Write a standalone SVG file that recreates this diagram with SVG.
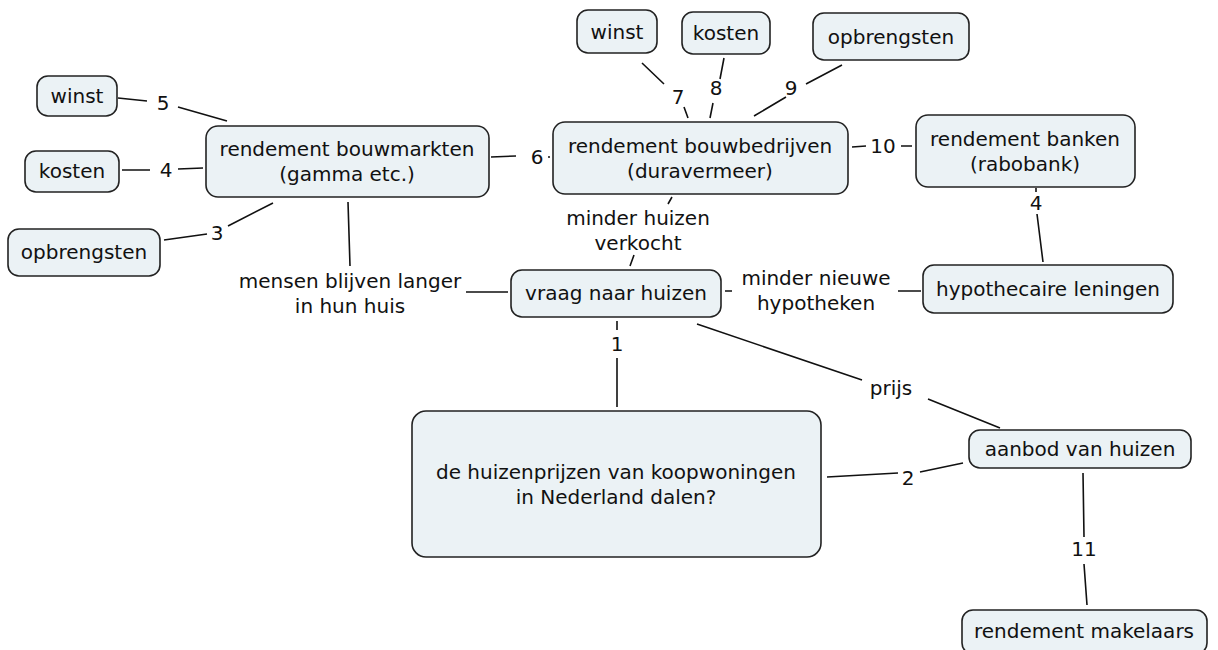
<svg xmlns="http://www.w3.org/2000/svg" width="1218" height="650" viewBox="0 0 1218 650">
<style>
.n{fill:#ebf2f5;stroke:#222;stroke-width:1.6}
.t{font-family:"DejaVu Sans",Verdana,sans-serif;font-size:20px;fill:#111;text-anchor:middle}
.c{stroke:#111;stroke-width:1.6;fill:none}
</style>
<rect width="1218" height="650" fill="#fff"/>
<g id="connectors">
<path class="c" d="M118,98 L147,101 M178,107 L227,121"/>
<path class="c" d="M122,170 L150,170 M178,169 L203,168"/>
<path class="c" d="M164,240 L207,234 M228,226 L273,203"/>
<path class="c" d="M491,157 L516,156 M548,157 L550,157"/>
<path class="c" d="M348,202 L350,266 M466,292 L508,292"/>
<path class="c" d="M642,63 L664,84 M684,107 L688,118"/>
<path class="c" d="M724,58 L720,79 M713,103 L710,118"/>
<path class="c" d="M842,65 L806,84 M786,97 L754,116"/>
<path class="c" d="M852,147 L866,146 M901,146 L912,146"/>
<path class="c" d="M1036,188 L1036,192 M1037,214 L1043,262"/>
<path class="c" d="M672,197 L668,204 M634,255 L630,266"/>
<path class="c" d="M725,291 L732,291 M898,291 L921,291"/>
<path class="c" d="M617,321 L617,330 M617,358 L617,407"/>
<path class="c" d="M697,324 L862,380 M928,399 L1000,428"/>
<path class="c" d="M827,477 L898,473 M920,472 L963,463"/>
<path class="c" d="M1083,473 L1084,537 M1084,564 L1087,605"/>
<g class="t">
<text x="163" y="110">5</text>
<text x="166" y="177">4</text>
<text x="217" y="240">3</text>
<text x="537" y="164">6</text>
<text x="350" y="288">mensen blijven langer</text>
<text x="350" y="313">in hun huis</text>
<text x="678" y="104">7</text>
<text x="716" y="95">8</text>
<text x="791" y="95">9</text>
<text x="883" y="153">10</text>
<text x="1036" y="210">4</text>
<text x="638" y="225">minder huizen</text>
<text x="638" y="250">verkocht</text>
<text x="816" y="285">minder nieuwe</text>
<text x="816" y="310">hypotheken</text>
<text x="617" y="351">1</text>
<text x="891" y="395">prijs</text>
<text x="908" y="485">2</text>
<text x="1084" y="556">11</text>
</g>
</g>
<g id="winst-l"><rect class="n" x="37" y="76" width="80" height="40" rx="11"/><text class="t" x="77" y="103">winst</text></g>
<g id="kosten-l"><rect class="n" x="25" y="151" width="94" height="41" rx="11"/><text class="t" x="72" y="178">kosten</text></g>
<g id="opbrengsten-l"><rect class="n" x="8" y="229" width="152" height="47" rx="11"/><text class="t" x="84" y="259">opbrengsten</text></g>
<g id="bouwmarkten"><rect class="n" x="206" y="126" width="283" height="71" rx="12"/><text class="t" x="347" y="156">rendement bouwmarkten</text><text class="t" x="347" y="181">(gamma etc.)</text></g>
<g id="winst-t"><rect class="n" x="577" y="10" width="80" height="43" rx="11"/><text class="t" x="617" y="39">winst</text></g>
<g id="kosten-t"><rect class="n" x="682" y="12" width="88" height="42" rx="11"/><text class="t" x="726" y="40">kosten</text></g>
<g id="opbrengsten-t"><rect class="n" x="813" y="13" width="156" height="47" rx="11"/><text class="t" x="891" y="44">opbrengsten</text></g>
<g id="bouwbedrijven"><rect class="n" x="553" y="122" width="295" height="72" rx="12"/><text class="t" x="700" y="153">rendement bouwbedrijven</text><text class="t" x="700" y="178">(duravermeer)</text></g>
<g id="banken"><rect class="n" x="916" y="115" width="219" height="72" rx="12"/><text class="t" x="1025" y="146">rendement banken</text><text class="t" x="1025" y="171">(rabobank)</text></g>
<g id="vraag"><rect class="n" x="511" y="270" width="210" height="47" rx="11"/><text class="t" x="616" y="300">vraag naar huizen</text></g>
<g id="hypothecaire"><rect class="n" x="923" y="265" width="250" height="48" rx="11"/><text class="t" x="1048" y="296">hypothecaire leningen</text></g>
<g id="huizenprijzen"><rect class="n" x="412" y="411" width="409" height="146" rx="14"/><text class="t" x="616" y="479">de huizenprijzen van koopwoningen</text><text class="t" x="616" y="504">in Nederland dalen?</text></g>
<g id="aanbod"><rect class="n" x="969" y="430" width="222" height="38" rx="11"/><text class="t" x="1080" y="456">aanbod van huizen</text></g>
<g id="makelaars"><rect class="n" x="962" y="610" width="245" height="44" rx="11"/><text class="t" x="1084" y="638">rendement makelaars</text></g>
</svg>
